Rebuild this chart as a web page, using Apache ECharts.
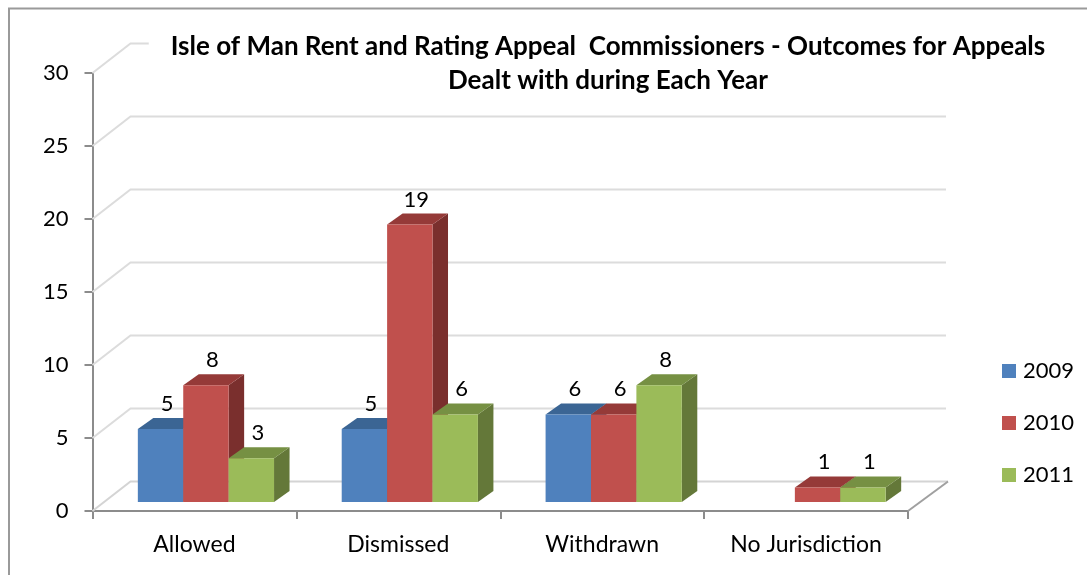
<!DOCTYPE html>
<html>
<head>
<meta charset="utf-8">
<style>html,body{margin:0;padding:0;background:#fff}#c{width:1087px;height:575px}</style>
<script src="https://cdn.jsdelivr.net/npm/echarts@6/dist/echarts.min.js"></script>
</head>
<body>
<div id="c"></div>
<script>
const categories = ['Allowed', 'Dismissed', 'Withdrawn', 'No Jurisdiction'];
const years = ['2009', '2010', '2011'];
const values2009 = [5, 5, 6, null];
const values2010 = [8, 19, 6, 1];
const values2011 = [3, 6, 8, 1];
const wallTicks = [5, 10, 15, 20, 25, 30];
const titleText = 'Isle of Man Rent and Rating Appeal  Commissioners - Outcomes for Appeals\nDealt with during Each Year';

const FONT = 'Lato';
const WALL_DX = 38, WALL_DY = -29.5;   // depth of the 3D box
const BAR_DX = 15.5, BAR_DY = -11;     // depth of each bar
const FLOOR_DX = 11.5, FLOOR_DY = -9;  // bars stand this far back on the floor
const BAR_W = 45.4;

const palette = [
  {front: '#4F81BD', top: '#3B6594', side: '#34587F'},
  {front: '#C0504D', top: '#953A38', side: '#7A2F2D'},
  {front: '#9BBB59', top: '#769043', side: '#647839'}
];

function pts(a) { return {points: a}; }

function wallRender(params, api) {
  const v = api.value(0);
  const y = api.coord([0, v])[1];
  const band = api.size([1, 0])[0];
  const x0 = api.coord([0, 0])[0] - band / 2;
  const x1 = x0 + band * categories.length;
  return {
    type: 'polyline',
    shape: pts([[x0, y], [x0 + WALL_DX, y + WALL_DY], [x1 + WALL_DX, y + WALL_DY]]),
    style: {fill: 'none', stroke: '#DCDCDC', lineWidth: 2}
  };
}

function floorRender(params, api) {
  const y = api.coord([0, 0])[1];
  const band = api.size([1, 0])[0];
  const x0 = api.coord([0, 0])[0] - band / 2;
  const x1 = x0 + band * categories.length;
  return {
    type: 'group',
    children: [
      {type: 'polyline', shape: pts([[x0, y], [x0 + WALL_DX, y + WALL_DY], [x1 + WALL_DX + 2, y + WALL_DY]]),
       style: {fill: 'none', stroke: '#D4D4D4', lineWidth: 2}},
      {type: 'polyline', shape: pts([[x1, y], [x1 + WALL_DX + 2, y + WALL_DY]]),
       style: {fill: 'none', stroke: '#A0A0A0', lineWidth: 2}}
    ]
  };
}

function barRender(si) {
  return function (params, api) {
    const val = api.value(1);
    if (val == null || isNaN(val)) return null;
    const cat = api.value(0);
    const c = palette[si];
    const p = api.coord([cat, val]);
    const b = api.coord([cat, 0]);
    const left = p[0] + FLOOR_DX + (si - 1.5) * BAR_W;
    const right = left + BAR_W;
    const top = p[1] + FLOOR_DY;
    const base = b[1] + FLOOR_DY;
    return {
      type: 'group',
      children: [
        {type: 'polygon', shape: pts([[right, top], [right + BAR_DX, top + BAR_DY], [right + BAR_DX, base + BAR_DY], [right, base]]),
         style: {fill: c.side}},
        {type: 'polygon', shape: pts([[left, top], [left + BAR_DX, top + BAR_DY], [right + BAR_DX, top + BAR_DY], [right, top]]),
         style: {fill: c.top}},
        {type: 'rect', shape: {x: left, y: top, width: BAR_W, height: base - top},
         style: {fill: c.front}},
        {type: 'text', style: {x: (left + right) / 2 + 6.5, y: top - 25, text: String(val), fill: '#000',
          font: '22px ' + FONT, align: 'center', verticalAlign: 'middle'}}
      ]
    };
  };
}

const seriesValues = [values2009, values2010, values2011];
const chart = echarts.init(document.getElementById('c'), null, {renderer: 'canvas'});
chart.setOption({
  animation: false,
  backgroundColor: '#fff',
  title: {
    text: titleText,
    left: 586, top: 26, textAlign: 'center',
    backgroundColor: '#fff',
    padding: [4, 22, 8, 22],
    textStyle: {fontFamily: FONT, fontWeight: 'bold', fontSize: 26, lineHeight: 34, color: '#000'}
  },
  legend: {
    orient: 'vertical', left: 1002, top: 360,
    itemWidth: 14, itemHeight: 14, itemGap: 30, padding: 0,
    icon: 'rect',
    data: years,
    textStyle: {fontFamily: FONT, fontSize: 22, color: '#000', padding: [0, 0, 0, 2]}
  },
  grid: {left: 92.5, top: 73, width: 815.5, height: 438},
  xAxis: {
    type: 'category', data: categories,
    axisLine: {lineStyle: {color: '#8C8C8C', width: 2}},
    axisTick: {show: true, alignWithLabel: false, length: 8, lineStyle: {color: '#8C8C8C', width: 2}},
    axisLabel: {fontFamily: FONT, fontSize: 23, color: '#000', margin: 22}
  },
  yAxis: {
    type: 'value', min: 0, max: 30, interval: 5,
    axisLine: {show: true, lineStyle: {color: '#8C8C8C', width: 2}},
    axisTick: {show: true, length: 8, lineStyle: {color: '#8C8C8C', width: 2}},
    splitLine: {show: false},
    axisLabel: {fontFamily: FONT, fontSize: 22, color: '#000', margin: 24}
  },
  graphic: [
    {type: 'polyline', shape: {points: [[9, 575], [9, 8.5], [1087, 8.5]]},
     style: {fill: 'none', stroke: '#9A9A9A', lineWidth: 2}, silent: true}
  ],
  series: [
    {type: 'custom', name: 'walls', coordinateSystem: 'cartesian2d', renderItem: wallRender, clip: false, silent: true,
     data: wallTicks.map(v => [v]), encode: {x: -1, y: 0}, z: 1},
    {type: 'custom', name: 'floor', coordinateSystem: 'cartesian2d', renderItem: floorRender, clip: false, silent: true,
     data: [[0]], encode: {x: -1, y: 0}, z: 1}
  ].concat(years.map((name, si) => ({
    type: 'custom', name: name, coordinateSystem: 'cartesian2d', renderItem: barRender(si), clip: false,
    itemStyle: {color: palette[si].front}, z: 3 + si,
    data: seriesValues[si].map((v, i) => [i, v]), encode: {x: 0, y: 1}
  })))
});
</script>
</body>
</html>
